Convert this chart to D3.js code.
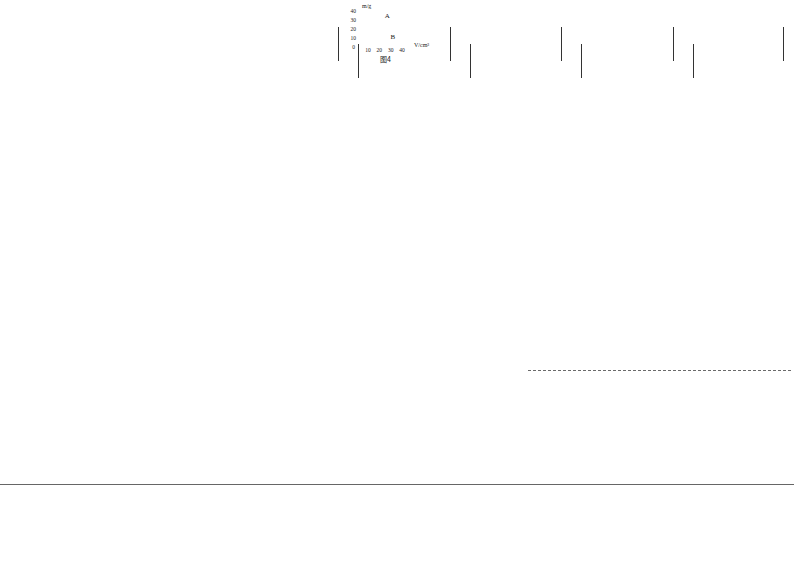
<!DOCTYPE html>
<html>
<head>
<meta charset="utf-8">
<script src="https://cdn.jsdelivr.net/npm/d3@7"></script>
<style>
html,body{margin:0;padding:0;background:#fff;}
svg{display:block;}
</style>
</head>
<body>
<svg id="c" width="794" height="562"></svg>
<script>
// data
const yTicks = [0, 10, 20, 30, 40];
const xTicks = [10, 20, 30, 40];
const lineLabels = [{name: "A", v: 27, m: 35}, {name: "B", v: 32, m: 12}];
const yTitle = "m/g";
const xTitle = "V/cm³";
const caption = "图4";
// column rule positions (page decoration)
const upperRules = [338, 450, 561, 673, 783];
const lowerRules = [358, 470, 581, 693];

const svg = d3.select("#c");
const font = "'Liberation Serif','DejaVu Serif',serif";

const x = d3.scaleLinear().domain([0, 40]).range([356.7, 402]);
const y = d3.scaleLinear().domain([0, 40]).range([47, 11]);

// y tick labels
svg.append("g").selectAll("text").data(yTicks).join("text")
  .attr("x", d => d === 0 ? 355 : 356)
  .attr("y", d => y(d) + 2)
  .attr("text-anchor", "end")
  .attr("font-family", font).attr("font-size", 5.5).attr("fill", "#222")
  .text(d => d);

// x tick labels
svg.append("g").selectAll("text").data(xTicks).join("text")
  .attr("x", d => x(d))
  .attr("y", 52)
  .attr("text-anchor", "middle")
  .attr("font-family", font).attr("font-size", 5.5).attr("fill", "#222")
  .text(d => d);

// axis titles
svg.append("text").attr("x", 362).attr("y", 8)
  .attr("font-family", font).attr("font-size", 6).attr("fill", "#222").text(yTitle);
svg.append("text").attr("x", 414).attr("y", 47)
  .attr("font-family", font).attr("font-size", 6).attr("fill", "#222").text(xTitle);

// line labels
svg.append("g").selectAll("text").data(lineLabels).join("text")
  .attr("x", d => x(d.v))
  .attr("y", d => y(d.m) + 2.5)
  .attr("text-anchor", "middle")
  .attr("font-family", font).attr("font-size", 7).attr("fill", "#222")
  .text(d => d.name);

// caption
svg.append("text").attr("x", 380).attr("y", 62)
  .attr("font-family", "'Noto Sans CJK SC',sans-serif").attr("font-size", 7).attr("fill", "#222")
  .text(caption);

// vertical rules
svg.append("g").selectAll("line").data(upperRules).join("line")
  .attr("x1", d => d + 0.5).attr("x2", d => d + 0.5)
  .attr("y1", 27).attr("y2", 61)
  .attr("stroke", "#333").attr("stroke-width", 1);
svg.append("g").selectAll("line").data(lowerRules).join("line")
  .attr("x1", d => d + 0.5).attr("x2", d => d + 0.5)
  .attr("y1", 44).attr("y2", 78)
  .attr("stroke", "#333").attr("stroke-width", 1);

// dashed line
svg.append("line").attr("x1", 528).attr("x2", 792).attr("y1", 370.5).attr("y2", 370.5)
  .attr("stroke", "#444").attr("stroke-width", 0.8).attr("stroke-dasharray", "3,2");

// bottom rule
svg.append("line").attr("x1", 0).attr("x2", 794).attr("y1", 484.5).attr("y2", 484.5)
  .attr("stroke", "#666").attr("stroke-width", 1);
</script>
</body>
</html>
